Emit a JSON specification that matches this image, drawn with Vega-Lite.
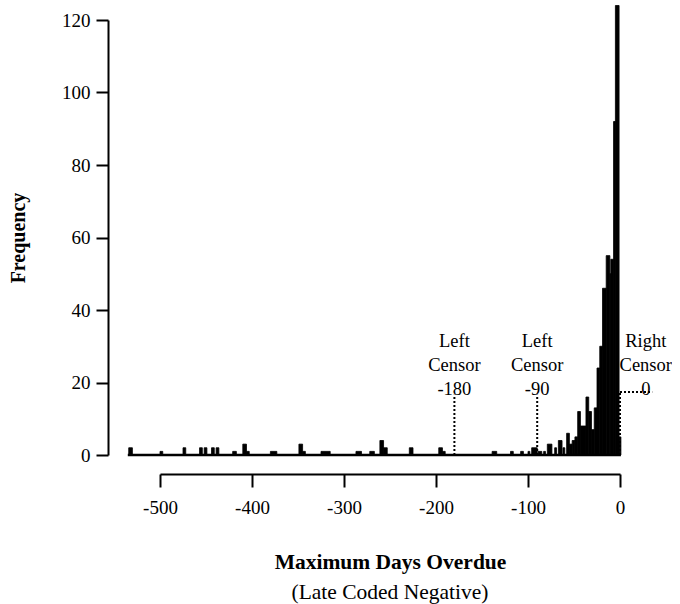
{
  "$schema": "https://vega.github.io/schema/vega-lite/v6.json",
  "width": 460,
  "height": 435,
  "padding": {"left": 8, "top": 5, "right": 0, "bottom": 4},
  "background": "white",
  "title": {"text": "(Late Coded Negative)", "orient": "bottom", "font": "Liberation Serif", "fontSize": 21.5, "fontWeight": "normal", "color": "black", "offset": 9},
  "config": {"view": {"stroke": null}, "font": "Liberation Serif"},
  "datasets": {
    "bars": [
      {"start": -534, "end": -530, "count": 2},
      {"start": -500, "end": -497, "count": 1},
      {"start": -475, "end": -472, "count": 2},
      {"start": -457, "end": -454, "count": 2},
      {"start": -452, "end": -449, "count": 2},
      {"start": -444, "end": -441, "count": 2},
      {"start": -439, "end": -436, "count": 2},
      {"start": -421, "end": -417, "count": 1},
      {"start": -410, "end": -406, "count": 3},
      {"start": -406, "end": -403, "count": 1},
      {"start": -380, "end": -373, "count": 1},
      {"start": -349, "end": -345, "count": 3},
      {"start": -345, "end": -342, "count": 1},
      {"start": -325, "end": -315, "count": 1},
      {"start": -287, "end": -281, "count": 1},
      {"start": -272, "end": -267, "count": 1},
      {"start": -261, "end": -257, "count": 4},
      {"start": -257, "end": -253, "count": 2},
      {"start": -229, "end": -225, "count": 2},
      {"start": -197, "end": -193, "count": 2},
      {"start": -193, "end": -190, "count": 1},
      {"start": -139, "end": -134, "count": 1},
      {"start": -119, "end": -116, "count": 1},
      {"start": -108, "end": -105, "count": 1},
      {"start": -100, "end": -98, "count": 1},
      {"start": -96, "end": -90, "count": 2},
      {"start": -89, "end": -85, "count": 1},
      {"start": -83, "end": -81, "count": 1},
      {"start": -79, "end": -74, "count": 3},
      {"start": -71, "end": -69, "count": 2},
      {"start": -67, "end": -63, "count": 4},
      {"start": -62, "end": -60, "count": 2},
      {"start": -58, "end": -55, "count": 6},
      {"start": -55, "end": -52, "count": 3},
      {"start": -52, "end": -49, "count": 4},
      {"start": -49, "end": -46, "count": 5},
      {"start": -46, "end": -43, "count": 12},
      {"start": -43, "end": -37, "count": 8},
      {"start": -37, "end": -34, "count": 16},
      {"start": -34, "end": -31, "count": 12},
      {"start": -31, "end": -28, "count": 7},
      {"start": -28, "end": -25, "count": 13},
      {"start": -25, "end": -22, "count": 24},
      {"start": -22, "end": -19, "count": 30},
      {"start": -19, "end": -15, "count": 46},
      {"start": -15, "end": -11, "count": 55},
      {"start": -11, "end": -10, "count": 50},
      {"start": -10, "end": -7, "count": 54},
      {"start": -7, "end": -5, "count": 92},
      {"start": -5, "end": -1, "count": 124},
      {"start": -1, "end": 1, "count": 5}
    ],
    "censor": [
      {"x": -180, "x2": -180, "y": 0, "y2": 16.6},
      {"x": -90, "x2": -90, "y": 0, "y2": 16.6},
      {"x": 0, "x2": 0, "y": 0, "y2": 17.4},
      {"x": 0, "x2": 35, "y": 17.4, "y2": 17.4}
    ],
    "labels": [
      {"x": -180, "y": 28.8, "label": ["Left", "Censor", "-180"]},
      {"x": -90, "y": 28.8, "label": ["Left", "Censor", "-90"]},
      {"x": 28, "y": 28.8, "label": ["Right", "Censor", "0"]}
    ],
    "baseline": [{"x": -535, "x2": 1, "y": 0}]
  },
  "layer": [
    {
      "data": {"name": "bars"},
      "mark": {"type": "rect", "color": "black", "stroke": "black", "strokeWidth": 0.8},
      "encoding": {
        "x": {"field": "start", "type": "quantitative",
          "scale": {"domain": [-500, 0], "nice": false, "zero": false},
          "axis": {"values": [-500, -400, -300, -200, -100, 0], "labelExpr": "'' + datum.value", "labelFlush": false, "labelOverlap": false, "offset": 19, "domainColor": "black", "domainWidth": 2, "tickColor": "black", "tickWidth": 2, "tickSize": 13, "labelFont": "Liberation Serif", "labelFontSize": 19, "labelColor": "black", "labelPadding": 11, "title": "Maximum Days Overdue", "titleFont": "Liberation Serif", "titleFontSize": 21.5, "titleFontWeight": "bold", "titleColor": "black", "titlePadding": 34, "grid": false}},
        "x2": {"field": "end"},
        "y": {"field": "count", "type": "quantitative",
          "scale": {"domain": [0, 120], "nice": false},
          "axis": {"values": [0, 20, 40, 60, 80, 100, 120], "offset": 52, "domainColor": "black", "domainWidth": 2, "tickColor": "black", "tickWidth": 2, "tickSize": 12, "labelFont": "Liberation Serif", "labelFontSize": 19, "labelColor": "black", "labelPadding": 6, "title": "Frequency", "titleFont": "Liberation Serif", "titleFontSize": 20, "titleFontWeight": "bold", "titleColor": "black", "titlePadding": 33, "grid": false}},
        "y2": {"datum": 0}
      }
    },
    {
      "data": {"name": "baseline"},
      "mark": {"type": "rule", "color": "black", "strokeWidth": 2.5},
      "encoding": {
        "x": {"field": "x", "type": "quantitative"},
        "x2": {"field": "x2"},
        "y": {"field": "y", "type": "quantitative"}
      }
    },
    {
      "data": {"name": "censor"},
      "mark": {"type": "rule", "color": "black", "strokeWidth": 2, "strokeDash": [2, 2]},
      "encoding": {
        "x": {"field": "x", "type": "quantitative"},
        "x2": {"field": "x2"},
        "y": {"field": "y", "type": "quantitative"},
        "y2": {"field": "y2"}
      }
    },
    {
      "data": {"name": "labels"},
      "mark": {"type": "text", "font": "Liberation Serif", "fontSize": 18.5, "color": "black", "baseline": "bottom", "align": "center", "lineHeight": 24},
      "encoding": {
        "x": {"field": "x", "type": "quantitative"},
        "y": {"field": "y", "type": "quantitative"},
        "text": {"field": "label"}
      }
    }
  ]
}
